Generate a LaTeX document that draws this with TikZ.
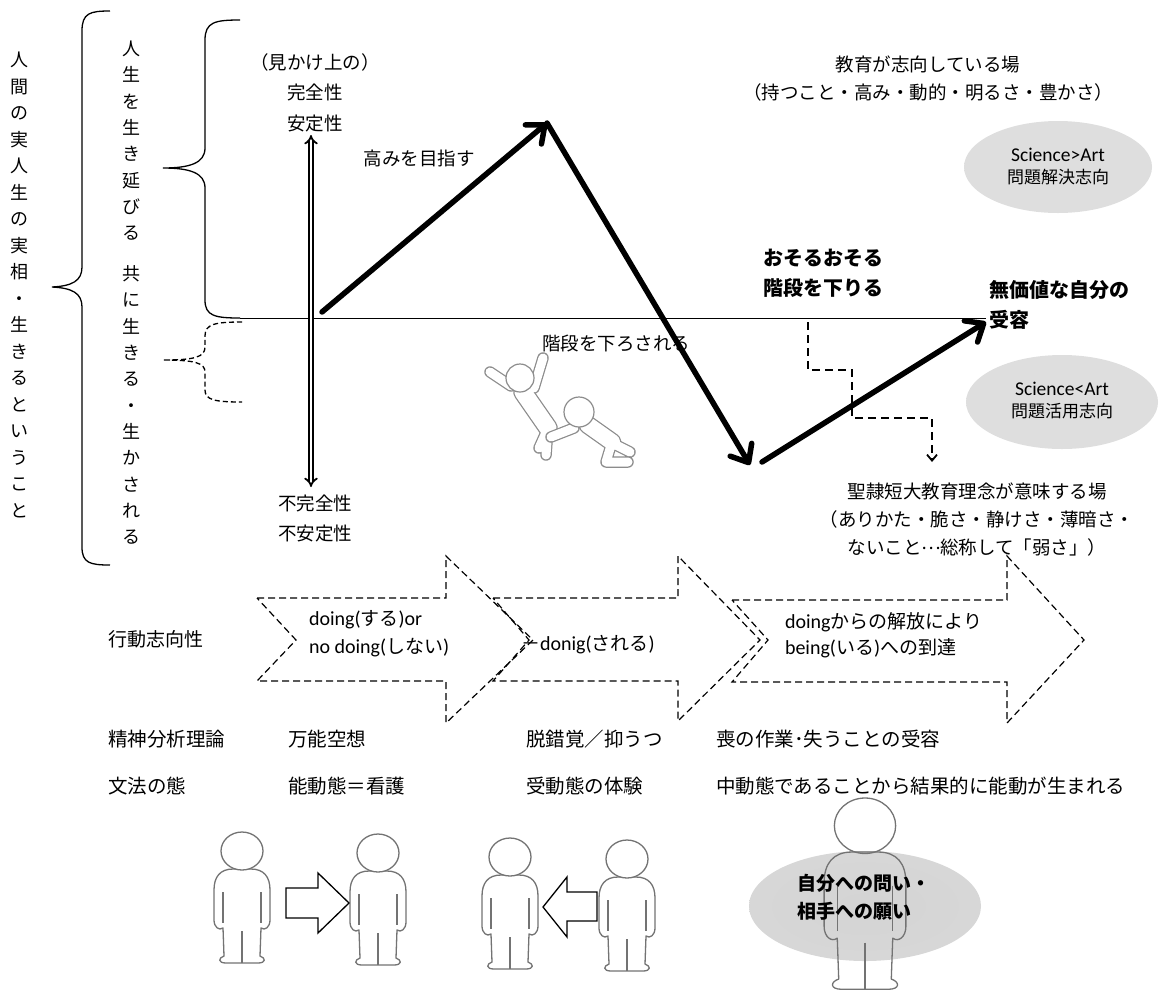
\documentclass[tikz,border=0pt]{standalone}
\usepackage{fontspec}
\setmainfont{Noto Sans CJK JP}
\newfontfamily\latinfont{Carlito}
\newcommand{\LT}[1]{{\latinfont #1}}
\newcommand{\midellipsis}{\makebox[1em]{\raisebox{0.3em}{…}}}
\usetikzlibrary{arrows.meta,shapes.geometric,calc}
\pgfdeclareradialshading{softbubble}{\pgfpoint{0bp}{0bp}}{color(0bp)=(black!17); color(36bp)=(black!15); color(50bp)=(black!4); color(72bp)=(white)}
\pgfdeclareradialshading{softgray}{\pgfpoint{0bp}{0bp}}{color(0bp)=(black!13); color(40bp)=(black!13); color(50bp)=(black!6); color(72bp)=(white)}
\begin{document}
\begin{tikzpicture}[x=1pt, y=-1pt,
  every node/.style={inner sep=0pt, outer sep=0pt},
  jp/.style={font=\fontsize{18.5}{30}\selectfont, align=center},
  jpleft/.style={font=\fontsize{19.5}{28}\selectfont, align=left, anchor=west},
  jpbold/.style={font=\fontsize{20}{30}\selectfont\bfseries, align=center},
  bigarrow/.style={line width=5.5pt, line cap=round, -{Straight Barb[length=15pt,width=25pt,round]}},
  axisline/.style={line width=0.9pt},
  brace/.style={line width=1.3pt},
  dashbrace/.style={line width=1.3pt, dash pattern=on 5pt off 3pt},
  blockarrow/.style={line width=1.2pt, dash pattern=on 7pt off 4pt, line join=miter},
  stairs/.style={line width=1.8pt, dash pattern=on 8pt off 5pt},
  bubbletext/.style={align=center, font=\fontsize{17}{22}\selectfont},
  figline/.style={draw=black!55, line width=1.3pt, fill=white, line join=round},
  figinner/.style={draw=black!55, line width=1.1pt},
  limbout/.style={draw=black!45, line cap=round, line join=round},
  limbin/.style={draw=white, line cap=round, line join=round},
  hollowarrow/.style={draw=black, line width=1.3pt, fill=white, line join=miter},
  person/.pic={
    \path[figline] (-9,37) .. controls (-22,37) and (-28,45) .. (-28,58)
      -- (-28,88) .. controls (-28,95) and (-23,99) .. (-19,96)
      -- (-18,124) .. controls (-24,126) and (-24,131) .. (-16,131)
      -- (16,131) .. controls (24,131) and (24,126) .. (18,124)
      -- (19,96) .. controls (23,99) and (28,95) .. (28,88)
      -- (28,58) .. controls (28,45) and (22,37) .. (9,37) -- cycle;
    \draw[figinner] (-19,60) -- (-19,91) (19,60) -- (19,91) (0,99) -- (0,131);
    \path[figline] (0,19) ellipse (21 and 19);
  }
]
\useasboundingbox (0,0) rectangle (1161,997);

% ---------- left columns and braces ----------
\node[font=\fontsize{18}{26.5}\selectfont, align=center, anchor=north] (lifetitle) at (19,52)
  {人\\間\\の\\実\\人\\生\\の\\実\\相\\・\\生\\き\\る\\と\\い\\う\\こ\\と};
\node[font=\fontsize{18}{26.3}\selectfont, align=center, anchor=north] (livecol) at (131,41)
  {人\\生\\を\\生\\き\\延\\び\\る\\[14.7pt]共\\に\\生\\き\\る\\・\\生\\か\\さ\\れ\\る};

\draw[brace] (110,11) .. controls (90,11) and (82,13) .. (82,31) -- (82,267)
  .. controls (82,281) and (72,286) .. (52,287) coordinate (outertip)
  .. controls (72,288) and (82,293) .. (82,307) -- (82,547)
  .. controls (82,563) and (90,565) .. (110,565);

\draw[brace] (240,20) .. controls (215,20) and (205,22) .. (205,40) -- (205,148)
  .. controls (205,163) and (190,168) .. (163,168) coordinate (uppertip)
  .. controls (190,168) and (205,173) .. (205,188) -- (205,300)
  .. controls (205,316) and (215,318) .. (240,318) coordinate (axisstart);

\draw[dashbrace] (242,322) .. controls (215,322) and (205,324) .. (205,336) -- (205,347)
  .. controls (205,357) and (195,360) .. (163,360) coordinate (lowertip)
  .. controls (195,360) and (205,363) .. (205,372) -- (205,390)
  .. controls (205,400) and (215,402) .. (242,402);

% ---------- axis and value scale ----------
\coordinate (axisend) at (986,318);
\draw[axisline] (axisstart) -- (axisend);

\node[font=\fontsize{18.5}{30.5}\selectfont, align=center] (complete) at (315,92.5)
  {（見かけ上の）\\完全性\\安定性};
\node[font=\fontsize{18.5}{30}\selectfont, align=center] (incomplete) at (315,518)
  {不完全性\\不安定性};
\coordinate (scaletop) at (311,135);
\coordinate (scalebot) at (311,487);
\draw[double, double distance=2.6pt, line width=1.8pt, {Implies}-{Implies}] (scaletop) -- (scalebot);

% ---------- path of life ----------
\coordinate (p0) at (322,312);
\coordinate (p1) at (547,123);
\coordinate (p2) at (750,465);
\coordinate (p3) at (762,462);
\coordinate (p4) at (986,322);
\draw[bigarrow] (p0) -- (p1);
\draw[bigarrow] (p1) -- (p2);
\draw[bigarrow] (p3) -- (p4);

\node[jp] (aim) at (419,158) {高みを目指す};
\node[jp] (forced) at (616,343) {階段を下ろされる};
\node[font=\fontsize{18.5}{28}\selectfont, align=center] (eduplace) at (928,79)
  {教育が志向している場\\（持つこと・高み・動的・明るさ・豊かさ）};
\node[jpbold] (timid) at (823,273) {おそるおそる\\階段を下りる};
\node[font=\fontsize{20}{30}\selectfont\bfseries, align=left, anchor=west] (accept) at (989,305) {無価値な自分の\\受容};

\shade[shading=softgray] (1058,167) ellipse (94 and 46);
\node[bubbletext] (sciA) at (1058,166) {\LT{\fontsize{19.5}{22}\selectfont Science>Art}\\問題解決志向};
\shade[shading=softgray] (1062,402) ellipse (96 and 47);
\node[bubbletext] (sciB) at (1062,401) {\LT{\fontsize{19.5}{22}\selectfont Science<Art}\\問題活用志向};

\coordinate (stairtop) at (808,322);
\coordinate (stairend) at (932,462);
\draw[stairs, -{Straight Barb[length=6pt,width=10pt]}] (stairtop) |- (852,370) |- (932,418) -- (stairend);

\node[font=\fontsize{18.5}{28}\selectfont, align=center] (seirei) at (977,520)
  {聖隷短大教育理念が意味する場\\（ありかた・脆さ・静けさ・薄暗さ・\\ないこと\midellipsis 総称して「弱さ」）};

% ---------- falling figures ----------
\foreach \w/\st in {11.5/limbout, 9/limbin} {
  \draw[\st, line width=\w pt] (490,372) -- (511,386) (534,388) -- (543,358)
    (548,428) -- (546,455) (548,428) -- (539,448);
  \draw[\st, line width=\w pt + 8pt] (523,392) -- (548,428);
}
\node[circle, draw=black!45, line width=1.2pt, fill=white, minimum size=28] (fallhead) at (520,378) {};
\foreach \w/\st in {11.5/limbout, 9/limbin} {
  \draw[\st, line width=\w pt] (574,428) -- (551,437) (612,442) -- (606,462) -- (628,462)
    (614,444) -- (630,452);
  \draw[\st, line width=\w pt + 7pt] (588,425) -- (612,442);
}
\node[circle, draw=black!45, line width=1.2pt, fill=white, minimum size=30] (pushhead) at (579,412) {};

% ---------- dashed block arrows ----------
\draw[blockarrow] (257,598) -- (446,598) -- (446,556) -- (533,640) -- (446,723) -- (446,681) -- (257,681) -- (296,640) -- cycle;
\draw[blockarrow] (493,598) -- (678,598) -- (678,556) -- (760,640) -- (678,721) -- (678,681) -- (493,681) -- (529,640) -- cycle;
\draw[blockarrow] (732,600) -- (1007,600) -- (1007,556) -- (1084,640) -- (1007,723) -- (1007,682) -- (732,682) -- (768,640) -- cycle;

\node[font=\fontsize{19}{28}\selectfont, anchor=west] (orient) at (108,639) {行動志向性};
\node[font=\fontsize{19}{28}\selectfont, align=left, anchor=west] (doing) at (309,634)
  {\LT{\fontsize{20}{28}\selectfont doing(}する\LT{\fontsize{20}{28}\selectfont )or}\\\LT{\fontsize{20}{28}\selectfont no doing(}しない\LT{\fontsize{20}{28}\selectfont )}};
\node[font=\fontsize{19}{28}\selectfont, anchor=west] (done) at (521,645) {－\LT{\fontsize{20}{28}\selectfont donig(}される\LT{\fontsize{20}{28}\selectfont )}};
\node[font=\fontsize{19}{26}\selectfont, align=left, anchor=west] (being) at (785,635)
  {\LT{\fontsize{20}{26}\selectfont doing}からの解放により\\\LT{\fontsize{20}{26}\selectfont being(}いる\LT{\fontsize{20}{26}\selectfont )}への到達};

% ---------- theory rows ----------
\node[jpleft] (rowA) at (108,739) {精神分析理論};
\node[jpleft] (rowA1) at (288,739) {万能空想};
\node[jpleft] (rowA2) at (526,739) {脱錯覚／抑うつ};
\node[jpleft] (rowA3) at (716,739) {喪の作業･失うことの受容};
\node[jpleft] (rowB) at (108,786) {文法の態};
\node[jpleft] (rowB1) at (288,786) {能動態＝看護};
\node[jpleft] (rowB2) at (526,786) {受動態の体験};
\node[jpleft] (rowB3) at (716,786) {中動態であることから結果的に能動が生まれる};

% ---------- people ----------
\pic at (242,832) {person};
\pic at (378,834) {person};
\pic at (510,838) {person};
\pic at (627,840) {person};
\draw[hollowarrow] (286,888) -- (318,888) -- (318,873) -- (349,903) -- (318,933) -- (318,918) -- (286,918) -- cycle;
\draw[hollowarrow] (597,892) -- (567,892) -- (567,877) -- (543,907) -- (567,937) -- (567,921) -- (597,921) -- cycle;

\coordinate (bubblec) at (865,906);
\shade[shading=softbubble] (bubblec) ellipse (116 and 55);
\pic[figline/.append style={fill=none}, scale=1.46] at (865,798) {person};
\node[font=\fontsize{19}{28}\selectfont\bfseries, align=left, anchor=west] (question) at (797,897) {自分への問い・\\相手への願い};

\end{tikzpicture}
\end{document}
